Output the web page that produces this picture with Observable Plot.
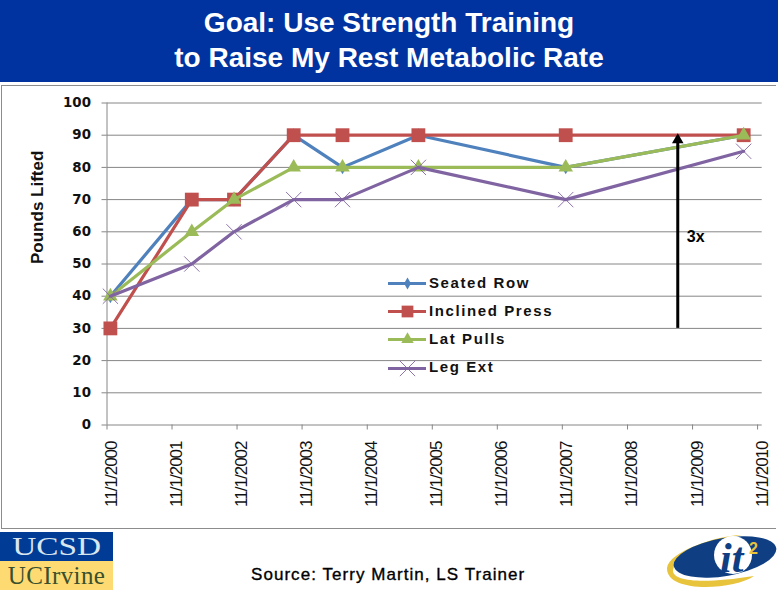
<!DOCTYPE html>
<html>
<head>
<meta charset="utf-8">
<script src="https://cdn.jsdelivr.net/npm/d3@7"></script>
<script src="https://cdn.jsdelivr.net/npm/@observablehq/plot@0.6"></script>
<style>
html,body{margin:0;padding:0;background:#fff}
#page{position:relative;width:778px;height:590px;overflow:hidden;font-family:"Liberation Sans",Arial,sans-serif}
#banner{position:absolute;left:0;top:0;width:778px;height:82px;background:#0033a0;color:#fff;font-weight:bold;font-size:28px;line-height:34.5px;text-align:center;padding-top:6px;box-sizing:border-box}
#panel{position:absolute;left:1px;top:85px;width:775px;height:444px;border:1px solid #8c8c8c;border-right:none;box-sizing:border-box}
#chart{position:absolute;left:0;top:85px}
#chart [aria-label="x-axis tick label"]{letter-spacing:-1px}
#legend{position:absolute;left:388px;top:269px;font-family:"Liberation Sans",sans-serif;font-weight:bold;font-size:15px;letter-spacing:1.6px;color:#111}
.lrow{display:flex;align-items:center;height:28.2px}
.lrow span{margin-left:3px;position:relative;top:-1px}
#ucsd{position:absolute;left:0;top:532px;width:113px;height:29px;background:#003b96;color:#d8e6f0;font:26px/29px "Liberation Serif",serif;text-align:center}
#ucsd span{display:inline-block;transform:scaleX(1.28)}
#uci{position:absolute;left:0;top:561px;width:113px;height:29px;background:#fddb72;color:#39502f;font:25px/29px "Liberation Serif",serif;text-align:center;letter-spacing:.4px}
#source{position:absolute;left:251px;top:565px;font-size:17px;line-height:20px;letter-spacing:1.05px;color:#000;-webkit-text-stroke:.35px #000;white-space:nowrap}
#logo{position:absolute;left:664px;top:532px}
</style>
</head>
<body>
<div id="page">
  <div id="banner">Goal: Use Strength Training<br>to Raise My Rest Metabolic Rate</div>
  <div id="panel"></div>
  <div id="chart"></div>
  <div id="legend"></div>
  <div id="ucsd"><span>UCSD</span></div>
  <div id="uci">UCIrvine</div>
  <div id="source">Source: Terry Martin, LS Trainer</div>
  <svg id="logo" width="114" height="58" viewBox="0 0 114 58">
    <path d="M3 36 C5 20 50 4 78 3 C50 8 12 22 9 38 C8 50 40 52 90 44 C70 58 2 62 3 36Z" fill="#e8c43c"/>
    <ellipse cx="61" cy="25" rx="52" ry="19" transform="rotate(-10 61 25)" fill="#0f3f82"/>
    <circle cx="69" cy="23" r="19" fill="#fff"/>
    <text x="56" y="40" font-family="Liberation Serif" font-style="italic" font-weight="bold" font-size="42" fill="#0f3f82">it</text>
    <text x="85" y="22" font-family="Liberation Sans" font-weight="bold" font-size="16" fill="#e8c43c">2</text>
  </svg>
</div>
<script>
const dateStrings = ["2000-11-20","2002-02-20","2002-10-15","2003-09-15","2004-06-15","2005-08-15","2007-11-20","2010-08-15"];
const seatedRow   = [40,70,70,90,80,90,80,90];
const inclinedPress = [30,70,70,90,90,90,90,90];
const latPulls    = [40,60,70,80,80,80,80,90];
const legExt      = [40,50,60,70,70,80,70,85];
const yearTicks = [2000,2001,2002,2003,2004,2005,2006,2007,2008,2009,2010];
const yTicks = [0,10,20,30,40,50,60,70,80,90,100];
const arrowDate = "2009-08-10";
const arrowFrom = 30, arrowTo = 90;
const note = "3x", notePos = 58.5;
const yTitle = "Pounds Lifted";

const day = s => new Date(s + "T00:00:00Z");
const dates = dateStrings.map(day);
const tickDates = yearTicks.map(y => new Date(Date.UTC(y,10,1)));
const fmt = d => `11/1/${d.getUTCFullYear()}`;
const rows = v => v.map((y,i)=>({x:dates[i],y}));
const series = [
  {name:"Seated Row",    data:rows(seatedRow),     color:"#4f81bd", symbol:"diamond",  r:4.2},
  {name:"Inclined Press",data:rows(inclinedPress), color:"#c0504d", symbol:"square",   r:7.8},
  {name:"Lat Pulls",     data:rows(latPulls),      color:"#9bbb59", symbol:"triangle", r:5.4},
  {name:"Leg Ext",       data:rows(legExt),        color:"#8064a2", symbol:"times",    r:7}
];

const lineMarks = series.flatMap(s => [
  Plot.line(s.data,{x:"x",y:"y",stroke:s.color,strokeWidth:3.2}),
  s.symbol==="times"
    ? Plot.dot(s.data,{x:"x",y:"y",symbol:"times",r:s.r,stroke:s.color,strokeWidth:0.9,fill:"none"})
    : Plot.dot(s.data,{x:"x",y:"y",symbol:s.symbol,r:s.r,fill:s.color,stroke:"none"})
]);

const chart = Plot.plot({
  width:778, height:444,
  marginTop:17.5, marginBottom:104.5, marginLeft:106.5, marginRight:16.3,
  style:{background:"transparent",overflow:"visible"},
  x:{type:"utc",domain:[tickDates[0],new Date(Date.UTC(2010,10,27))]},
  y:{domain:[0,100]},
  marks:[
    Plot.ruleY(yTicks,{y:d=>d,stroke:"#868686",strokeWidth:1,strokeOpacity:1}),
    Plot.ruleX([tickDates[0]],{x:d=>d,stroke:"#868686",strokeWidth:1}),
    Plot.axisY({ticks:yTicks,tickSize:5,tickPadding:11,stroke:"#868686",tickFormat:d=>d,label:null,
      fontSize:13.4,fontWeight:"bold",fontFamily:"DejaVu Sans",fill:"#111"}),
    Plot.text([yTitle],{text:d=>d,frameAnchor:"left",rotate:-90,dx:-69.5,fontSize:17,fontWeight:"bold",fontFamily:"Liberation Sans",fill:"#111"}),
    Plot.axisX({ticks:tickDates,tickSize:5,stroke:"#868686",fill:"none",label:null}),
    Plot.axisX({ticks:tickDates,tickSize:0,tickPadding:16.5,tickRotate:-90,dx:4.5,tickFormat:fmt,label:null,
      fontSize:17,fontFamily:"Liberation Sans",fill:"#111"}),
    ...lineMarks,
    Plot.ruleX([day(arrowDate)],{x:d=>d,y1:arrowFrom,y2:arrowTo-2,stroke:"#000",strokeWidth:3}),
    Plot.dot([day(arrowDate)],{x:d=>d,y:arrowTo-1.5,symbol:"triangle",r:4.3,fill:"#000",stroke:"none"}),
    Plot.text([note],{x:day(arrowDate),y:notePos,dx:9,text:d=>d,textAnchor:"start",fontSize:16,fontWeight:"bold",fontFamily:"Liberation Sans",fill:"#000"})
  ]
});
chart.querySelectorAll("g").forEach(g=>{
  const t=g.querySelector("text");
  if(t && /^11\/1\//.test(t.textContent)) g.style.letterSpacing="-1px";
});
document.getElementById("chart").appendChild(chart);

const legend = document.getElementById("legend");
for (const s of series) {
  const row = document.createElement("div");
  row.className = "lrow";
  const key = Plot.plot({
    width:38,height:20,margin:0,axis:null,
    x:{domain:[0,1]},y:{domain:[0,1]},
    style:{background:"transparent",overflow:"visible"},
    marks:[
      Plot.ruleY([0.5],{y:d=>d,stroke:s.color,strokeWidth:2.8}),
      s.symbol==="times"
        ? Plot.dot([0.5],{x:d=>d,y:d=>d,symbol:"times",r:s.r,stroke:s.color,strokeWidth:0.9,fill:"none"})
        : Plot.dot([0.5],{x:d=>d,y:d=>d,symbol:s.symbol,r:s.r*0.85,fill:s.color,stroke:"none"})
    ]
  });
  row.appendChild(key);
  const label = document.createElement("span");
  label.textContent = s.name;
  row.appendChild(label);
  legend.appendChild(row);
}
</script>
</body>
</html>
